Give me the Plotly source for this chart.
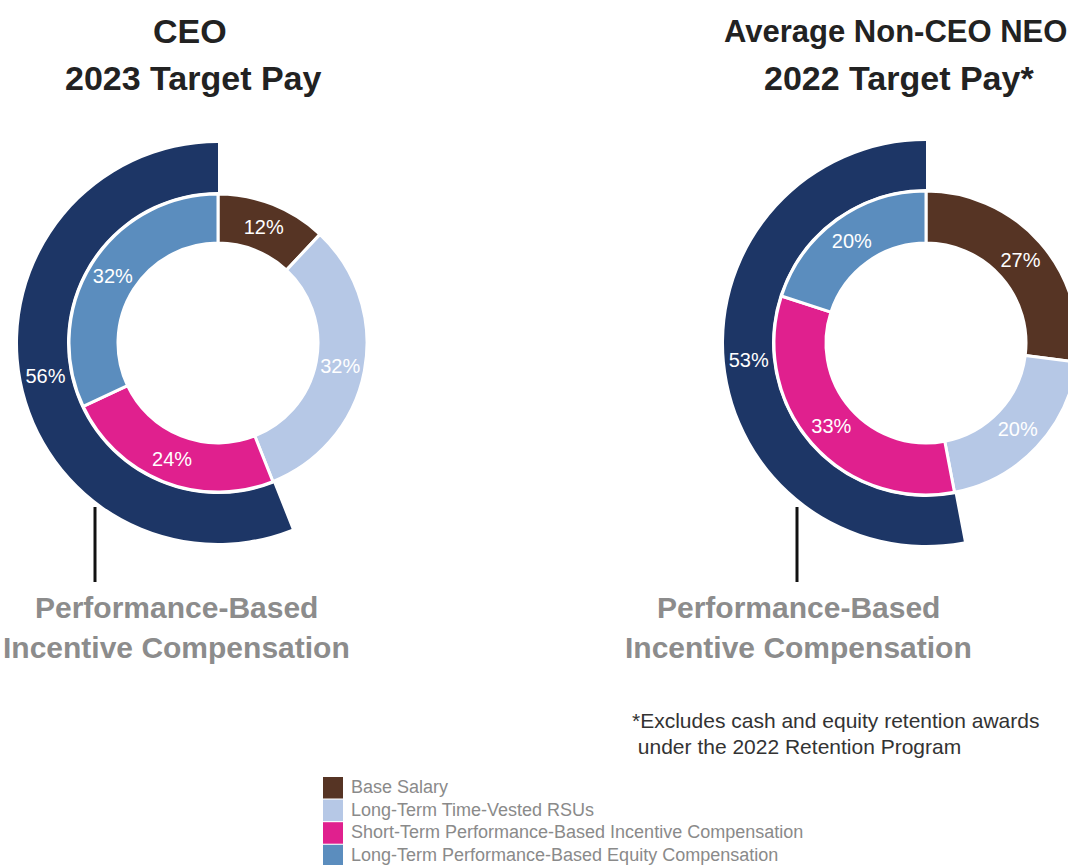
import plotly.graph_objects as go

# ---- data ----
components = [
    "Base Salary",
    "Long-Term Time-Vested RSUs",
    "Short-Term Performance-Based Incentive Compensation",
    "Long-Term Performance-Based Equity Compensation",
]
ceo_values = [12, 32, 24, 32]
neo_values = [27, 20, 33, 20]
ceo_perf = 56
neo_perf = 53
ceo_title = ["CEO", "2023 Target Pay"]
neo_title = ["Average Non-CEO NEO", "2022 Target Pay*"]
perf_label = ["Performance-Based", "Incentive Compensation"]
footnote = ["*Excludes cash and equity retention awards", " under the 2022 Retention Program"]

colors = ["#563424", "#B6C8E6", "#E0208E", "#5B8DBE"]
navy = "#1D3666"

W, H = 1140, 865
FONT = "Liberation Sans, Arial, sans-serif"


def dom(cx, cy, r):
    return dict(x=[(cx - r) / W, (cx + r) / W],
                y=[(H - cy - r) / H, (H - cy + r) / H])


fig = go.Figure()


def add_donut(values, perf, cx, cy, r_out, r_mid, r_hole):
    # outer performance-based arc
    fig.add_trace(go.Pie(
        values=[100 - perf, perf],
        labels=["Other", "Performance-Based"],
        text=["", f"{perf}%"],
        textinfo="text",
        textposition="inside",
        insidetextorientation="horizontal",
        textfont=dict(family=FONT, size=20, color="white"),
        marker=dict(colors=["rgba(0,0,0,0)", navy], line=dict(width=0)),
        hole=(r_mid + 2) / r_out,
        sort=False, direction="clockwise", rotation=0,
        domain=dom(cx, cy, r_out),
        showlegend=False, hoverinfo="skip",
    ))
    # inner component ring
    fig.add_trace(go.Pie(
        values=values,
        labels=components,
        text=[f"{v}%" for v in values],
        textinfo="text",
        textposition="inside",
        insidetextorientation="horizontal",
        textfont=dict(family=FONT, size=20, color="white"),
        marker=dict(colors=colors, line=dict(color="white", width=3)),
        hole=r_hole / r_mid,
        sort=False, direction="clockwise", rotation=0,
        domain=dom(cx, cy, r_mid),
        showlegend=False, hoverinfo="label+value",
    ))


add_donut(ceo_values, ceo_perf, 218, 343, 200, 149, 100)
add_donut(neo_values, neo_perf, 926, 343, 202, 152, 100)

ann = []


def text(x, y, s, size, color, bold=False, xanchor="center"):
    ann.append(dict(x=x / W, y=(H - y) / H, xref="paper", yref="paper",
                    text=f"<b>{s}</b>" if bold else s, showarrow=False,
                    xanchor=xanchor, yanchor="middle",
                    font=dict(family=FONT, size=size, color=color)))


text(190, 31, ceo_title[0], 34, "#222222", True)
text(193, 78, ceo_title[1], 34, "#222222", True)
text(895, 31, neo_title[0], 31, "#222222", True)
text(899, 78, neo_title[1], 34, "#222222", True)
for cx in (176, 798):
    text(cx, 607, perf_label[0], 30, "#8C8C8C", True)
    text(cx, 647, perf_label[1], 30, "#8C8C8C", True)
text(630, 720, footnote[0], 21, "#333333", False, "left")
text(630, 746, footnote[1], 21, "#333333", False, "left")

shapes = []
for x in (95, 797):
    shapes.append(dict(type="line", xref="paper", yref="paper",
                       x0=x / W, x1=x / W, y0=(H - 507) / H, y1=(H - 582) / H,
                       line=dict(color="#111111", width=3)))

# legend (drawn as swatches + labels)
for i, (name, c) in enumerate(zip(components, colors)):
    top = 777 + i * 22.6
    shapes.append(dict(type="rect", xref="paper", yref="paper",
                       x0=323 / W, x1=343 / W, y0=(H - top) / H, y1=(H - top - 21.5) / H,
                       fillcolor=c, line=dict(width=0)))
    text(349, top + 10, name, 18, "#8A8A8A", False, "left")

fig.update_layout(
    width=W, height=H,
    margin=dict(l=0, r=0, t=0, b=0, autoexpand=False),
    paper_bgcolor="white", plot_bgcolor="white",
    annotations=ann, shapes=shapes,
    showlegend=False,
)

fig.write_html("out.html",
               post_script="document.body.style.margin='0';document.body.style.overflow='hidden';")
